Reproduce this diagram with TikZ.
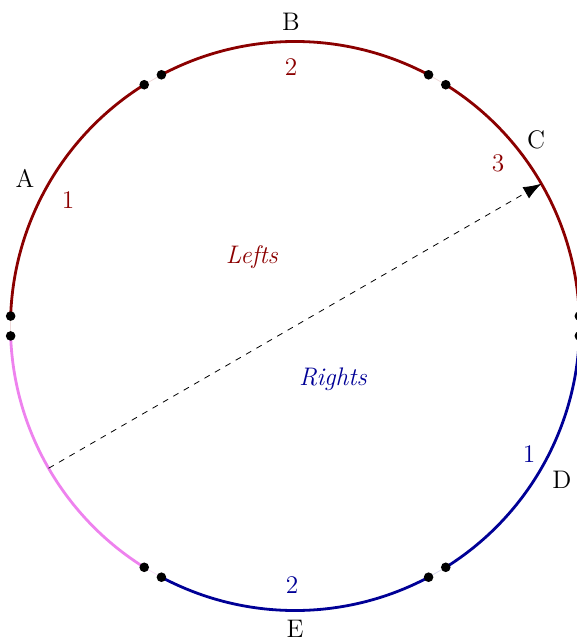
\documentclass[tikz,border=0pt]{standalone}
\usetikzlibrary{arrows.meta}
\definecolor{darkred}{RGB}{139,0,0}
\definecolor{darkblue}{RGB}{0,0,150}
\definecolor{pinkviolet}{RGB}{238,130,238}
\begin{document}
\begin{tikzpicture}[x=1pt,y=1pt,
  arcline/.style={line width=1.4pt},
  gapline/.style={line width=0.4pt},
  dotmark/.style={fill=black},
  lbl/.style={inner sep=0pt, font=\fontsize{12.7}{15}\selectfont}]
\useasboundingbox (-147.5,-156.5) rectangle (141,163);
\def\R{142.26}
% arcs
\draw[arcline,darkred] (2:\R) arc[start angle=2,end angle=58,radius=\R];
\draw[arcline,darkred] (62:\R) arc[start angle=62,end angle=118,radius=\R];
\draw[arcline,darkred] (122:\R) arc[start angle=122,end angle=178,radius=\R];
\draw[arcline,pinkviolet] (182:\R) arc[start angle=182,end angle=238,radius=\R];
\draw[arcline,darkblue] (242:\R) arc[start angle=242,end angle=298,radius=\R];
\draw[arcline,darkblue] (302:\R) arc[start angle=302,end angle=358,radius=\R];
% faint gap lines
\draw[gapline,darkred!15] (58:\R) -- (62:\R);
\draw[gapline,darkred!15] (118:\R) -- (122:\R);
\draw[gapline,darkred!15] (178:\R) -- (182:\R);
\draw[gapline,pinkviolet!25] (238:\R) -- (242:\R);
\draw[gapline,darkblue!15] (298:\R) -- (302:\R);
\draw[gapline,darkblue!15] (358:\R) -- (2:\R);
% dots
\foreach \a in {2,58,62,118,122,178,182,238,242,298,302,358}
  \fill[dotmark] (\a:\R) circle (2.4pt);
% diameter arrow
\coordinate (from) at (210:\R);
\coordinate (to) at (30:\R);
\draw[dashed,-{Latex[length=9pt,width=6.5pt]}] (from) -- (to);
% outer labels
\node[lbl] (A) at (-135,74) {A};
\node[lbl] (B) at (-2,152) {B};
\node[lbl] (C) at (120.5,93) {C};
\node[lbl] (D) at (133.5,-77) {D};
\node[lbl] (E) at (0,-151.5) {E};
% segment numbers
\node[lbl,text=darkred] (r1) at (-113.5,63) {1};
\node[lbl,text=darkred] (r2) at (-2,129.5) {2};
\node[lbl,text=darkred] (r3) at (101.5,81.5) {3};
\node[lbl,text=darkblue] (b1) at (117,-64) {1};
\node[lbl,text=darkblue] (b2) at (-1.5,-129.5) {2};
% side labels
\node[lbl,text=darkred] (lefts) at (-21.5,34.5) {\textit{Lefts}};
\node[lbl,text=darkblue] (rights) at (19,-26.5) {\textit{Rights}};
\end{tikzpicture}
\end{document}
